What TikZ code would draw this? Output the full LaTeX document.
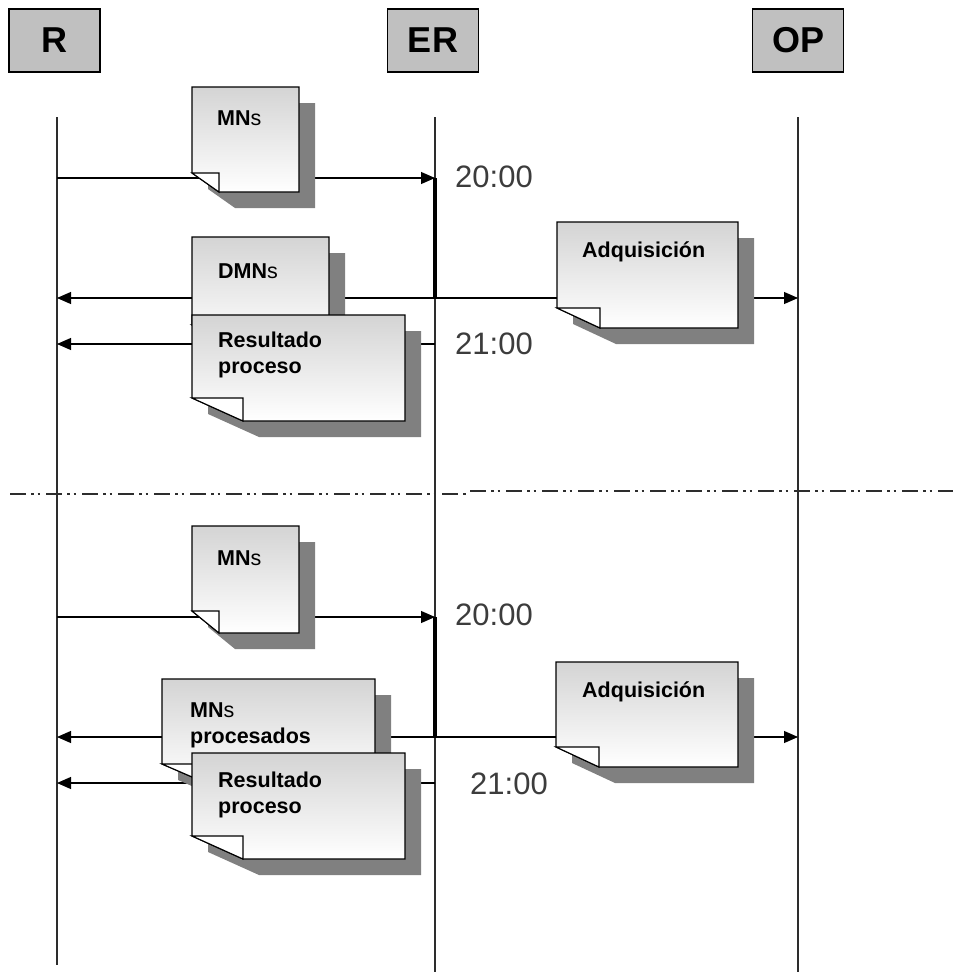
\documentclass[tikz,border=0pt]{standalone}
\usepackage{fontspec}
\setmainfont{Liberation Sans}
\usetikzlibrary{arrows.meta}
\definecolor{hdrgray}{RGB}{192,192,192}
\definecolor{shadowgray}{RGB}{128,128,128}
\definecolor{notetop}{RGB}{212,212,212}
\definecolor{linegray}{RGB}{45,45,45}
\definecolor{timegray}{RGB}{60,60,60}
\tikzset{
  hdr/.style={draw=black, line width=1.6pt, fill=hdrgray, minimum width=91pt, minimum height=63pt, inner sep=0pt, font=\fontsize{36}{40}\selectfont\bfseries},
  lifeline/.style={draw=linegray, line width=1.3pt},
  msg/.style={draw=black, line width=1.1pt, -{Triangle[length=14pt,width=12pt]}},
  activebar/.style={draw=black, line width=4pt},
  sepline/.style={draw=linegray, line width=1.8pt, dash pattern=on 16pt off 5pt on 2.5pt off 4pt on 2.5pt off 6pt},
  noteshadow/.style={fill=shadowgray},
  notebody/.style={draw=black, line width=1.2pt, top color=notetop, bottom color=white},
  noteflap/.style={draw=black, line width=1.1pt, fill=white},
  notetext/.style={anchor=base west, inner sep=0pt, align=left, font=\fontsize{21.5}{26}\selectfont\bfseries},
  timetext/.style={anchor=base west, inner sep=0pt, text=timegray, font=\fontsize{31}{34}\selectfont}
}
\newcommand\drawnote[7]{%
  \fill[noteshadow] ({#2+16},{#3+16}) -- ({#4+16},{#3+16}) -- ({#4+16},{#5+16}) -- ({#2+16+#6},{#5+16}) -- ({#2+16},{#5+16-#7}) -- cycle;
  \path[notebody] (#2,#3) -- (#4,#3) -- (#4,#5) -- ({#2+#6},#5) -- (#2,{#5-#7}) -- cycle;
  \draw[noteflap] (#2,{#5-#7}) -- ({#2+#6},{#5-#7}) -- ({#2+#6},#5) -- cycle;
  \coordinate (#1) at (#2,#3);
}
\begin{document}
\begin{tikzpicture}[x=1pt, y=-1pt]
\useasboundingbox (0,0) rectangle (953,972);

% headers
\node[hdr] (hR) at (54.5,40.5) {R};
\node[hdr] (hER) at (433,40.5) {ER};
\node[hdr] (hOP) at (798,40.5) {OP};

% lifelines
\coordinate (Rtop) at (57,117);
\coordinate (Rbot) at (57,965);
\coordinate (ERtop) at (435,117);
\coordinate (ERbot) at (435,972);
\coordinate (OPtop) at (798,117);
\coordinate (OPbot) at (798,972);
\draw[lifeline] (Rtop) -- (Rbot);
\draw[lifeline] (ERtop) -- (ERbot);
\draw[lifeline] (OPtop) -- (OPbot);

% separator
\coordinate (s1a) at (10,494);
\coordinate (s1b) at (466,494);
\coordinate (s2a) at (470,491);
\coordinate (s2b) at (953,491);
\draw[sepline] (s1a) -- (s1b);
\draw[sepline] (s2a) -- (s2b);

% ---------- upper part ----------
\coordinate (R1) at (57,178);   \coordinate (ER1) at (435,178);
\coordinate (R2) at (57,298);   \coordinate (ER2) at (435,298); \coordinate (OP2) at (798,298);
\coordinate (R3) at (57,344);   \coordinate (ER3) at (435,344);
\draw[msg] (R1) -- (ER1);
\draw[msg] (ER2) -- (R2);
\draw[msg] (ER2) -- (OP2);
\draw[msg] (ER3) -- (R3);
\draw[activebar] (ER1) -- (ER2);

\drawnote{nMN1}{192}{87}{299}{192}{27}{19}
\node[notetext] (tMN1) at (217,125) {MN\textmd{s}};
\drawnote{nDMN}{192}{237}{329}{345}{40}{20}
\node[notetext] (tDMN) at (218,278) {DMN\textmd{s}};
\drawnote{nRes1}{192}{315}{405}{421}{51}{23}
\node[notetext] (tRes1) at (218,373) {Resultado\\proceso};
\drawnote{nAdq1}{557}{222}{738}{328}{43}{20}
\node[notetext] (tAdq1) at (582,257) {Adquisición};

\node[timetext] (t20a) at (455,187) {20:00};
\node[timetext] (t21a) at (455,354) {21:00};

% ---------- lower part ----------
\coordinate (R4) at (57,617);   \coordinate (ER4) at (435,617);
\coordinate (R5) at (57,737);   \coordinate (ER5) at (435,737); \coordinate (OP5) at (798,737);
\coordinate (R6) at (57,783);   \coordinate (ER6) at (435,783);
\draw[msg] (R4) -- (ER4);
\draw[msg] (ER5) -- (R5);
\draw[msg] (ER5) -- (OP5);
\draw[msg] (ER6) -- (R6);
\draw[activebar] (ER4) -- (ER5);

\drawnote{nMN2}{192}{526}{299}{633}{27}{22}
\node[notetext] (tMN2) at (217,565) {MN\textmd{s}};
\drawnote{nMNp}{162}{679}{375}{786}{51}{22}
\node[notetext] (tMNp) at (190,743) {MN\textmd{s}\\procesados};
\drawnote{nRes2}{192}{753}{405}{859}{51}{23}
\node[notetext] (tRes2) at (218,813) {Resultado\\proceso};
\drawnote{nAdq2}{556}{662}{738}{767}{43}{20}
\node[notetext] (tAdq2) at (582,697) {Adquisición};

\node[timetext] (t20b) at (455,625) {20:00};
\node[timetext] (t21b) at (470,794) {21:00};
\end{tikzpicture}
\end{document}
